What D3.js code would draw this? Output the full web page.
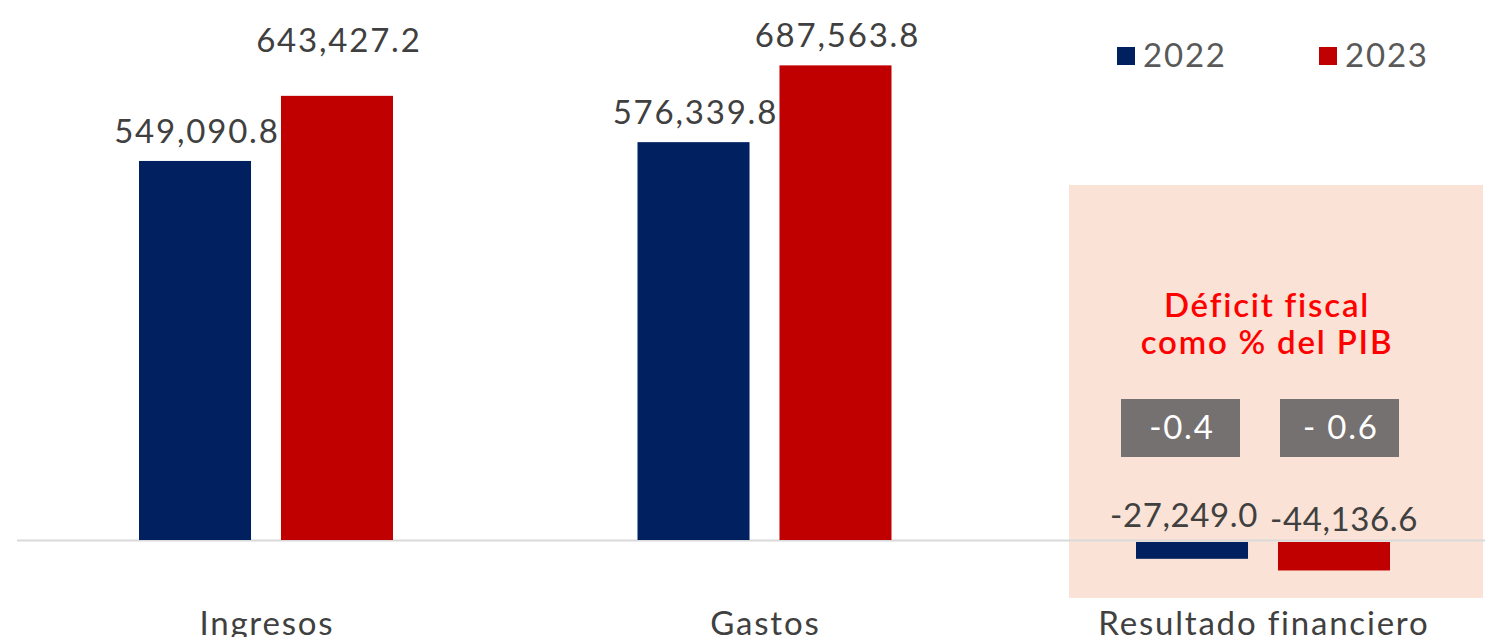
<!DOCTYPE html>
<html><head><meta charset="utf-8">
<script src="https://cdn.jsdelivr.net/npm/d3@7"></script>
<style>html,body{margin:0;padding:0;background:#fff;overflow:hidden}</style>
</head><body><svg id="c" width="1485" height="637"></svg>
<script>
const categories = ["Ingresos", "Gastos", "Resultado financiero"];
const years = ["2022", "2023"];
const values2022 = [549090.8, 576339.8, -27249.0];
const values2023 = [643427.2, 687563.8, -44136.6];
const deficitPct = ["-0.4", "- 0.6"];
const noteTitle = ["Déficit fiscal", "como % del PIB"];
const colors = {"2022": "#002060", "2023": "#C00000"};

const FONT = "Lato, 'Open Sans', sans-serif";
const FS = 33, LS = 1.8;
const svg = d3.select("#c");
const W = 1485, H = 637;

const x0 = d3.scaleBand().domain(categories).range([16.75, 1512.25]).paddingInner(0).paddingOuter(0);
const bw0 = x0.bandwidth();
const x1 = d3.scaleBand().domain(years).range([bw0/2 - 127, bw0/2 + 127]).paddingInner(0.211).paddingOuter(0);
const y = d3.scaleLinear().domain([-80000, 700000]).range([540 + 80000*0.0006903, 540 - 700000*0.0006903]);

const data = [];
categories.forEach((c, i) => {
  data.push({cat: c, year: "2022", v: values2022[i]});
  data.push({cat: c, year: "2023", v: values2023[i]});
});

// shaded panel behind Resultado financiero
svg.append("rect").attr("x", 1069).attr("y", 185).attr("width", 414).attr("height", 413)
  .attr("fill", "#FAE3D6");

// axis baseline
svg.append("line").attr("x1", 17).attr("x2", W).attr("y1", y(0)+0.5).attr("y2", y(0)+0.5)
  .attr("stroke", "#D9D9D9").attr("stroke-width", 2);

// bars
svg.selectAll("rect.bar").data(data).enter().append("rect").attr("class", "bar")
  .attr("x", d => x0(d.cat) + x1(d.year))
  .attr("width", x1.bandwidth())
  .attr("y", d => d.v >= 0 ? y(d.v) : y(0) + 2)
  .attr("height", d => d.v >= 0 ? y(0) - y(d.v) : y(d.v) - y(0) - 2)
  .attr("fill", d => colors[d.year]);

// value labels
const loc = d3.formatLocale({decimal: ".", thousands: ",", grouping: [3], currency: ["", ""], minus: "-"});
const fmt = loc.format(",.1f");
function txt(sel) {
  return sel.attr("font-family", FONT).attr("font-size", FS).attr("letter-spacing", LS);
}
txt(svg.selectAll("text.val").data(data).enter().append("text").attr("class", "val"))
  .attr("letter-spacing", d => d.v < 0 ? 0.6 : LS)
  .attr("x", d => x0(d.cat) + x1(d.year) + x1.bandwidth()/2 + (d.v < 0 ? (d.year === "2022" ? -8 : 10) : 1 + LS/2))
  .attr("y", d => {
    if (d.v < 0) return d.year === "2022" ? 527 : 531;
    let b = y(d.v) - 18;
    if (d.cat === "Ingresos" && d.year === "2023") b = y(d.v) - 44;
    return b;
  })
  .attr("text-anchor", "middle").attr("fill", "#404040")
  .text(d => fmt(d.v));

// category labels
txt(svg.selectAll("text.cat").data(categories).enter().append("text").attr("class", "cat"))
  .attr("x", d => x0(d) + bw0/2 + LS/2)
  .attr("y", 635)
  .attr("text-anchor", "middle").attr("fill", "#404040")
  .text(d => d);

// note title
txt(svg.selectAll("text.note").data(noteTitle).enter().append("text").attr("class", "note"))
  .attr("x", 1267).attr("y", (d, i) => 317 + i * 37)
  .attr("text-anchor", "middle").attr("font-weight", 600).attr("fill", "#FF0000")
  .text(d => d);

// deficit % boxes
const boxX = [1121, 1280];
const boxes = svg.selectAll("g.box").data(deficitPct).enter().append("g").attr("class", "box");
boxes.append("rect").attr("x", (d, i) => boxX[i]).attr("y", 399).attr("width", 119).attr("height", 58)
  .attr("fill", "#767171");
txt(boxes.append("text")).attr("x", (d, i) => boxX[i] + 60 + LS/2).attr("y", 439)
  .attr("text-anchor", "middle").attr("fill", "#fff")
  .text(d => d);

// legend
const legX = [1117, 1319];
const leg = svg.selectAll("g.leg").data(years).enter().append("g").attr("class", "leg");
leg.append("rect").attr("x", (d, i) => legX[i]).attr("y", 47).attr("width", 18).attr("height", 18)
  .attr("fill", d => colors[d]);
txt(leg.append("text")).attr("x", (d, i) => legX[i] + 26).attr("y", 67)
  .attr("fill", "#595959")
  .text(d => d);
</script></body></html>
